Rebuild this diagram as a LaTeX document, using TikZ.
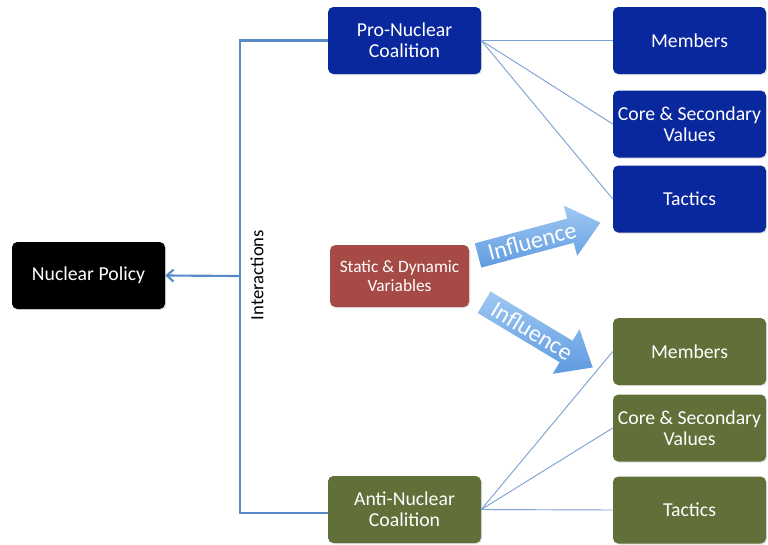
\documentclass[tikz,border=0pt]{standalone}
\usepackage{fontspec}
\setmainfont{Carlito}
\usetikzlibrary{shapes.arrows,arrows.meta,shadows}
\definecolor{problue}{RGB}{10,40,158}
\definecolor{antigreen}{RGB}{96,112,56}
\definecolor{varred}{RGB}{166,74,70}
\definecolor{thinline}{RGB}{125,160,210}
\definecolor{thickline}{RGB}{88,138,200}
\definecolor{arrtop}{RGB}{160,200,242}
\definecolor{arrbot}{RGB}{95,155,225}
\tikzset{
  box/.style={rectangle, rounded corners=4pt, minimum width=114.75pt, minimum height=50.25pt,
    text=white, align=center, font=\fontsize{14.8}{16}\selectfont, inner sep=1pt,
    drop shadow={opacity=0.25, shadow xshift=0.8pt, shadow yshift=-0.8pt}},
  bluebox/.style={box, fill=problue},
  greenbox/.style={box, fill=antigreen},
  thin link/.style={draw=thinline, line width=0.7pt},
  thick link/.style={draw=thickline, line width=1.6pt},
  infl/.style={single arrow, minimum height=95pt, minimum width=39pt,
    single arrow head extend=8pt, single arrow tip angle=80, inner sep=1pt,
    top color=arrtop, bottom color=arrbot, text=white,
    font=\fontsize{18}{20}\selectfont}
}
\begin{document}
\begin{tikzpicture}[x=0.75pt, y=-0.75pt]
\useasboundingbox (0,0) rectangle (768,544);
% main nodes
\node[box, fill=black] (policy) at (88.5,275.5) {Nuclear Policy};
\node[bluebox] (pro) at (404.5,40.5) {Pro-Nuclear\\Coalition};
\node[greenbox] (anti) at (404.5,509.5) {Anti-Nuclear\\Coalition};
\node[box, fill=varred, minimum width=104.25pt, minimum height=46.5pt,
  font=\fontsize{13}{14}\selectfont] (vars) at (399.5,276) {Static \& Dynamic\\Variables};
% pro side
\node[bluebox] (pmem) at (689.5,40.5) {Members};
\node[bluebox] (pcore) at (689.5,124) {Core \& Secondary\\Values};
\node[bluebox] (ptac) at (689.5,199) {Tactics};
% anti side
\node[greenbox] (amem) at (689.5,351.5) {Members};
\node[greenbox] (acore) at (689.5,428) {Core \& Secondary\\Values};
\node[greenbox] (atac) at (689.5,510) {Tactics};
% interactions bracket
\coordinate (j) at (240,276);
\draw[thick link] (pro.west) -- (240,40.5) -- (240,513) -- (anti.west |- 0,513);
\draw[thick link, -{Straight Barb[length=5pt,width=9pt]}] (j) -- (policy.east);
\node[rotate=90, font=\fontsize{14}{16}\selectfont] (inter) at (257,275) {Interactions};
% thin links
\draw[thin link] (pro.east) -- (pmem.west);
\draw[thin link] (pro.east) -- (pcore.west);
\draw[thin link] (pro.east) -- (ptac.west);
\draw[thin link] (anti.east) -- (amem.west);
\draw[thin link] (anti.east) -- (acore.west);
\draw[thin link] (anti.east) -- (atac.west);
% influence arrows
\node[infl, rotate=15] (inf1) at (532,241) {Influence};
\node[infl, rotate=-31] (inf2) at (532,331) {Influence};
\end{tikzpicture}
\end{document}
